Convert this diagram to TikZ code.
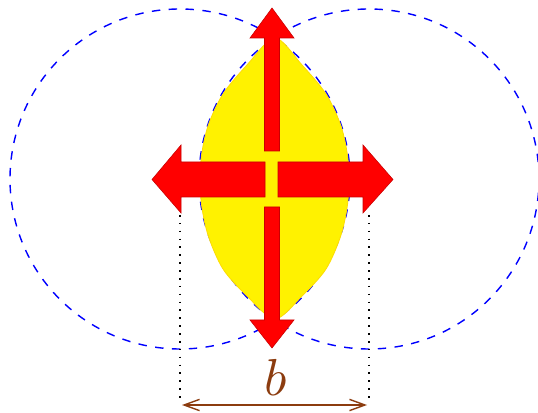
\documentclass[tikz,border=0pt]{standalone}
\usepackage{amsmath,amsfonts}
\usetikzlibrary{arrows,arrows.meta}
\definecolor{lbrown}{RGB}{140,60,15}
\definecolor{dred}{RGB}{200,0,0}
\tikzstyle{zone}=[blue,line width=1pt,dash pattern=on 6pt off 6pt]
\tikzstyle{lens}=[fill=yellow,draw=yellow!80!orange,line width=0.6pt]
\tikzstyle{push}=[fill=red,draw=dred,line width=0.4pt]
\tikzstyle{guide}=[line width=1.2pt,dash pattern=on 1.1pt off 4.5pt]
\tikzstyle{dim}=[{Straight Barb[length=11pt,width=8pt]}-{Straight Barb[length=11pt,width=8pt]},lbrown,line width=1pt]

\begin{document}
\begin{tikzpicture}[x=0.025cm,y=0.025cm]
\useasboundingbox (0,0) rectangle (538,413);
\coordinate (C1) at (180,234);
\coordinate (C2) at (369,234);
\draw[zone] (C1) circle (170);
\draw[zone] (C2) circle (170);
\filldraw[lens] plot[smooth cycle] coordinates {(275,375) (247,348) (223,319) (208,287) (201,253) (201,213) (208,178) (223,144) (247,117) (275,94) (302,117) (326,144) (341,178) (348,213) (348,253) (341,287) (326,319) (302,348)};
% arrows
\filldraw[push] (264.5,262)--(279.5,262)--(279.5,375)--(294,375)--(272,405)--(250,375)--(264.5,375)--cycle;
\filldraw[push] (264.5,206)--(279.5,206)--(279.5,93)--(294,93)--(272,65)--(250,93)--(264.5,93)--cycle;
\filldraw[push] (265,216)--(265,251)--(181,251)--(181,268)--(152,233.5)--(181,200)--(181,216)--cycle;
\filldraw[push] (278,216)--(278,251)--(363,251)--(363,268)--(393,233.5)--(363,200)--(363,216)--cycle;
\coordinate (L1) at (180,198);
\coordinate (L2) at (180,13);
\coordinate (R1) at (369,198);
\coordinate (R2) at (369,13);
\draw[guide] (L1)--(L2);
\draw[guide] (R1)--(R2);
\coordinate (D1) at (182,8);
\coordinate (D2) at (367,8);
\draw[dim] (D1)--(D2);
\node[lbrown,scale=3.7] (B) at (276,36) {$b$};
\end{tikzpicture}
\end{document}
